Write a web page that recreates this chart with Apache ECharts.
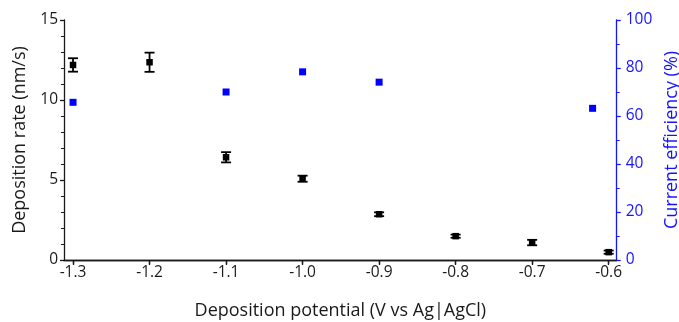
<!DOCTYPE html>
<html><head><meta charset="utf-8">
<script src="https://cdn.jsdelivr.net/npm/echarts@6/dist/echarts.min.js"></script>
<style>html,body{margin:0;padding:0;background:#fff}#c{width:679px;height:322px}</style>
</head><body><div id="c"></div>
<script>
const potentials = [-1.3, -1.2, -1.1, -1.0, -0.9, -0.8, -0.7, -0.6];
const rate = [12.19, 12.36, 6.42, 5.08, 2.86, 1.49, 1.09, 0.49];
const rateErr = [0.42, 0.6, 0.32, 0.19, 0.12, 0.1, 0.17, 0.1];
const effPotentials = [-1.3, -1.1, -1.0, -0.9, -0.621];
const efficiency = [65.7, 70.0, 78.4, 74.1, 63.2];
const xTicks = [-1.3, -1.2, -1.1, -1.0, -0.9, -0.8, -0.7, -0.6];

const FONT = 'Open Sans';
const BLUE = '#1414ff';
const chart = echarts.init(document.getElementById('c'));
const xMin = -1.3118, xMax = -0.5895;
chart.setOption({
  animation: false,
  grid: {left: 64, right: 62.3, top: 20, bottom: 62, outerBoundsMode: 'none', containLabel: false},
  xAxis: [{
    type: 'value', min: xMin, max: xMax, position: 'bottom',
    name: 'Deposition potential (V vs Ag|AgCl)', nameLocation: 'middle', nameGap: 42,
    nameTextStyle: {fontFamily: FONT, fontSize: 18, color: '#1a1a1a'},
    axisLine: {lineStyle: {color: '#1a1a1a', width: 1.3}},
    axisTick: {show: true, length: 4, lineStyle: {color: '#1a1a1a', width: 1.3}, customValues: xTicks},
    axisLabel: {fontFamily: FONT, fontSize: 15.5, color: '#1a1a1a', margin: 5, customValues: xTicks,
      formatter: v => v.toFixed(1)},
    splitLine: {show: false}
  }, {
    type: 'value', min: xMin, max: xMax, position: 'top',
    axisLine: {lineStyle: {color: '#1a1a1a', width: 1.3}},
    axisTick: {show: true, inside: true, length: 5, lineStyle: {color: '#1a1a1a', width: 1.3}, customValues: xTicks},
    axisLabel: {show: false},
    splitLine: {show: false}
  }],
  yAxis: [{
    type: 'value', min: 0, max: 15, interval: 5, position: 'left',
    name: 'Deposition rate (nm/s)', nameLocation: 'middle', nameGap: 31,
    nameTextStyle: {fontFamily: FONT, fontSize: 18, color: '#1a1a1a'},
    axisLine: {show: true, lineStyle: {color: '#1a1a1a', width: 1.3}},
    axisTick: {show: true, length: 4, lineStyle: {color: '#1a1a1a', width: 1.3}},
    minorTick: {show: true, splitNumber: 5, length: 3, lineStyle: {color: '#1a1a1a', width: 1}},
    axisLabel: {fontFamily: FONT, fontSize: 15.5, color: '#1a1a1a', margin: 6},
    splitLine: {show: false}
  }, {
    type: 'value', min: 0, max: 100, interval: 20, position: 'right',
    name: 'Current efficiency (%)', nameLocation: 'middle', nameGap: 41, nameRotate: 90,
    nameTextStyle: {fontFamily: FONT, fontSize: 18, color: BLUE},
    axisLine: {show: true, lineStyle: {color: BLUE, width: 1.3}},
    axisTick: {show: true, length: 4, lineStyle: {color: BLUE, width: 1.3}},
    minorTick: {show: true, splitNumber: 2, length: 3, lineStyle: {color: BLUE, width: 1}},
    axisLabel: {fontFamily: FONT, fontSize: 15.5, color: BLUE, margin: 9},
    splitLine: {show: false}
  }],
  series: [{
    type: 'custom', xAxisIndex: 0, yAxisIndex: 0,
    data: potentials.map((x, i) => [x, rate[i] - rateErr[i], rate[i] + rateErr[i]]),
    renderItem: (params, api) => {
      const lo = api.coord([api.value(0), api.value(1)]);
      const hi = api.coord([api.value(0), api.value(2)]);
      const w = 5;
      const st = {stroke: '#000', lineWidth: 1.8, fill: null};
      return {type: 'group', children: [
        {type: 'line', shape: {x1: lo[0], y1: lo[1], x2: hi[0], y2: hi[1]}, style: st},
        {type: 'line', shape: {x1: lo[0] - w, y1: lo[1], x2: lo[0] + w, y2: lo[1]}, style: st},
        {type: 'line', shape: {x1: hi[0] - w, y1: hi[1], x2: hi[0] + w, y2: hi[1]}, style: st}
      ]};
    },
    z: 3
  }, {
    type: 'scatter', xAxisIndex: 0, yAxisIndex: 0,
    data: potentials.map((x, i) => [x, rate[i]]),
    symbol: 'rect', symbolSize: 6.5, itemStyle: {color: '#000', opacity: 1}, z: 4
  }, {
    type: 'scatter', xAxisIndex: 0, yAxisIndex: 1,
    data: effPotentials.map((x, i) => [x, efficiency[i]]),
    symbol: 'rect', symbolSize: 7, itemStyle: {color: '#0000ff', opacity: 1}, z: 4
  }]
});
</script></body></html>
